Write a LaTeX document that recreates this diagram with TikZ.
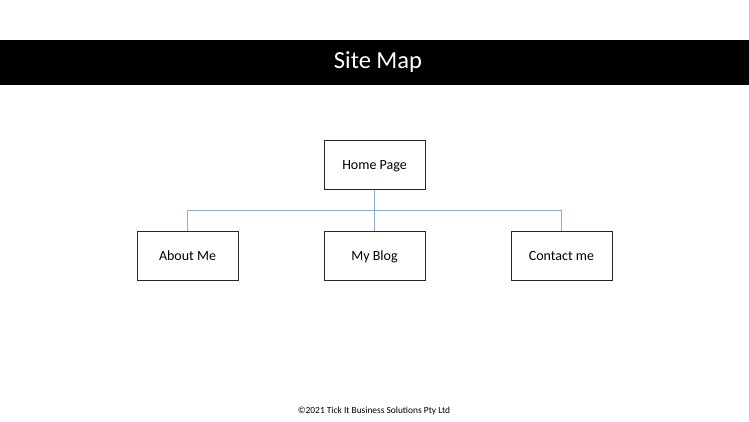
\documentclass[tikz,border=0pt]{standalone}
\usepackage{fontspec}
\setmainfont{Carlito}
\definecolor{linkblue}{RGB}{143,170,220}
\definecolor{edgegray}{RGB}{200,200,200}
\begin{document}
\begin{tikzpicture}[x=1pt,y=-1pt,
  pagebox/.style={draw=black!85, line width=1pt, minimum width=101pt, minimum height=49pt, inner sep=0pt, text height=9.5pt, text depth=0pt, font=\fontsize{14}{17}\selectfont},
  link/.style={draw=linkblue, line width=1pt}]
\useasboundingbox (0,0) rectangle (750,421);
\fill[white] (0,0) rectangle (750,421);
\fill[black] (0,40) rectangle (748.5,85);
\draw[edgegray, line width=1pt] (749.5,0) -- (749.5,421);
\node[text=white, font=\fontsize{24.5}{28}\selectfont] (title) at (378,62) {Site Map};
\node[pagebox] (home) at (374.5,165) {Home Page};
\node[pagebox] (about) at (187.5,255.5) {About Me};
\node[pagebox] (blog) at (374.5,255.5) {My Blog};
\node[pagebox] (contact) at (561.5,255.5) {Contact me};
\coordinate (bus) at (374.5,210.5);
\draw[link] (home.south) -- (bus);
\draw[link] (about.north) |- (bus) -| (contact.north);
\draw[link] (bus) -- (blog.north);
\node[font=\fontsize{9.4}{11}\selectfont] (footer) at (374,411) {©2021 Tick It Business Solutions Pty Ltd};
\end{tikzpicture}
\end{document}
